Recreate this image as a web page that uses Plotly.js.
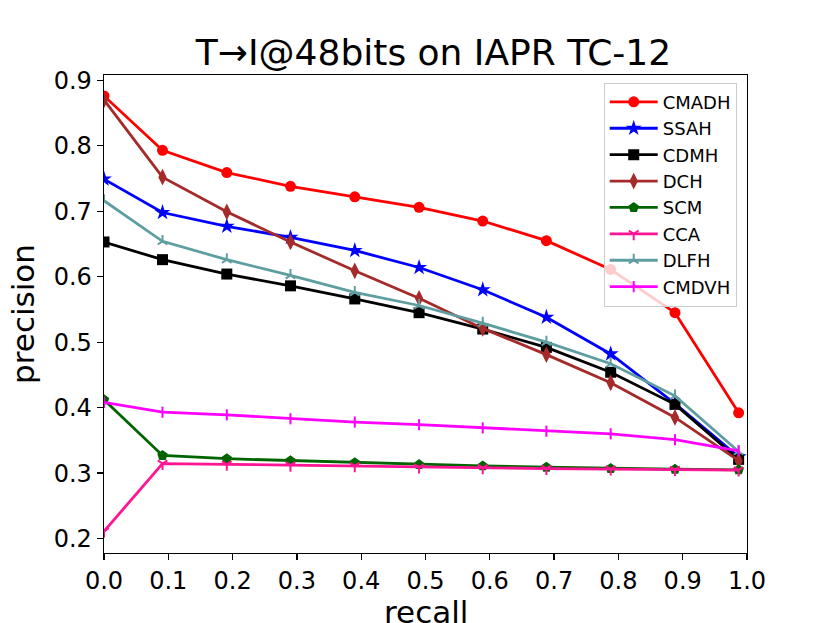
<!DOCTYPE html>
<html>
<head>
<meta charset="utf-8">
<script src="https://cdn.plot.ly/plotly-3.0.1.min.js"></script>
<style>
  html, body { margin: 0; padding: 0; background: #ffffff; }
  #chart { width: 830px; height: 623px; }
</style>
</head>
<body>
<div id="chart"></div>
<script>
// ---- data ----
const recall = [0, 0.091, 0.191, 0.29, 0.39, 0.49, 0.589, 0.688, 0.788, 0.888, 0.987];

const CMADH = [0.876, 0.793, 0.759, 0.738, 0.722, 0.706, 0.685, 0.655, 0.611, 0.545, 0.392];
const SSAH  = [0.749, 0.698, 0.677, 0.660, 0.640, 0.614, 0.580, 0.538, 0.482, 0.406, 0.325];
const CDMH  = [0.653, 0.626, 0.604, 0.586, 0.566, 0.545, 0.520, 0.492, 0.454, 0.405, 0.321];
const DCH   = [0.870, 0.752, 0.699, 0.653, 0.609, 0.567, 0.521, 0.481, 0.438, 0.385, 0.319];
const SCM   = [0.412, 0.327, 0.322, 0.319, 0.316, 0.313, 0.311, 0.309, 0.307, 0.306, 0.305];
const CCA   = [0.211, 0.3145, 0.3135, 0.312, 0.311, 0.309, 0.308, 0.307, 0.306, 0.3055, 0.3045];
const DLFH  = [0.716, 0.654, 0.626, 0.602, 0.576, 0.556, 0.529, 0.500, 0.467, 0.418, 0.333];
const CMDVH = [0.408, 0.393, 0.389, 0.383, 0.378, 0.374, 0.369, 0.364, 0.360, 0.351, 0.334];

const seriesNames = ["CMADH", "SSAH", "CDMH", "DCH", "SCM", "CCA", "DLFH", "CMDVH"];
const seriesValues = [CMADH, SSAH, CDMH, DCH, SCM, CCA, DLFH, CMDVH];

const xTicks = [0, 0.1, 0.2, 0.3, 0.4, 0.5, 0.6, 0.7, 0.8, 0.9, 1.0];
const yTicks = [0.2, 0.3, 0.4, 0.5, 0.6, 0.7, 0.8, 0.9];

// ---- styles ----
const styles = [
  {color: "#ff0000", symbol: "circle",      size: 11, lw: 0},
  {color: "#0000ff", symbol: "star",        size: 12, lw: 0},
  {color: "#000000", symbol: "square",      size: 11, lw: 0},
  {color: "#a52a2a", symbol: "diamond-tall",size: 12, lw: 0},
  {color: "#006400", symbol: "pentagon",    size: 11, lw: 0},
  {color: "#ff1493", symbol: "y-down",      size: 8,  lw: 2},
  {color: "#5f9ea0", symbol: "y-up",        size: 8,  lw: 2},
  {color: "#ff00ff", symbol: "line-ns",     size: 8,  lw: 2}
];

const FONT = "DejaVu Sans, Liberation Sans, sans-serif";

const traces = seriesNames.map((name, i) => {
  const s = styles[i];
  return {
    x: recall,
    y: seriesValues[i],
    name: name,
    type: "scatter",
    mode: "lines+markers",
    line: {color: s.color, width: 2.8},
    marker: {
      color: s.color,
      symbol: s.symbol,
      size: s.size,
      line: {color: s.color, width: s.lw}
    }
  };
});

const layout = {
  width: 830,
  height: 623,
  paper_bgcolor: "#ffffff",
  plot_bgcolor: "#ffffff",
  margin: {l: 104, r: 83, t: 75, b: 70, pad: 0},
  font: {family: FONT, color: "#000000"},
  showlegend: true,
  title: {
    text: "T→I@48bits on IAPR TC-12",
    font: {family: FONT, size: 36, color: "#000000"},
    x: 0.5124, xref: "paper", xanchor: "center",
    y: 1 - 52 / 623, yref: "container", yanchor: "middle"
  },
  xaxis: {
    range: [0, 1],
    tickvals: xTicks,
    ticktext: xTicks.map(v => v.toFixed(1)),
    ticks: "outside",
    ticklen: 6,
    tickwidth: 1.3,
    tickcolor: "#000000",
    showline: true,
    linecolor: "#000000",
    linewidth: 1.3,
    mirror: true,
    showgrid: false,
    zeroline: false,
    tickfont: {family: FONT, size: 24, color: "#000000"}
  },
  yaxis: {
    range: [0.178, 0.908],
    tickvals: yTicks,
    ticktext: yTicks.map(v => v.toFixed(1)),
    ticks: "outside",
    ticklen: 6,
    tickwidth: 1.3,
    tickcolor: "#000000",
    showline: true,
    linecolor: "#000000",
    linewidth: 1.3,
    mirror: true,
    showgrid: false,
    zeroline: false,
    tickfont: {family: FONT, size: 24, color: "#000000"},
    title: {text: "precision", font: {family: FONT, size: 31, color: "#000000"}, standoff: 10}
  },
  annotations: [{
    text: "recall",
    xref: "paper", yref: "paper",
    x: 0.5, y: -0.124,
    xanchor: "center", yanchor: "middle",
    showarrow: false,
    font: {family: FONT, size: 31, color: "#000000"}
  }],
  legend: {
    x: 0.984, xanchor: "right",
    y: 0.984, yanchor: "top",
    bgcolor: "rgba(255,255,255,0.8)",
    bordercolor: "#cccccc",
    borderwidth: 1,
    font: {family: FONT, size: 18, color: "#000000"},
    itemwidth: 48,
    tracegroupgap: 0
  }
};

Plotly.newPlot("chart", traces, layout, {staticPlot: true, displayModeBar: false});
</script>
</body>
</html>
